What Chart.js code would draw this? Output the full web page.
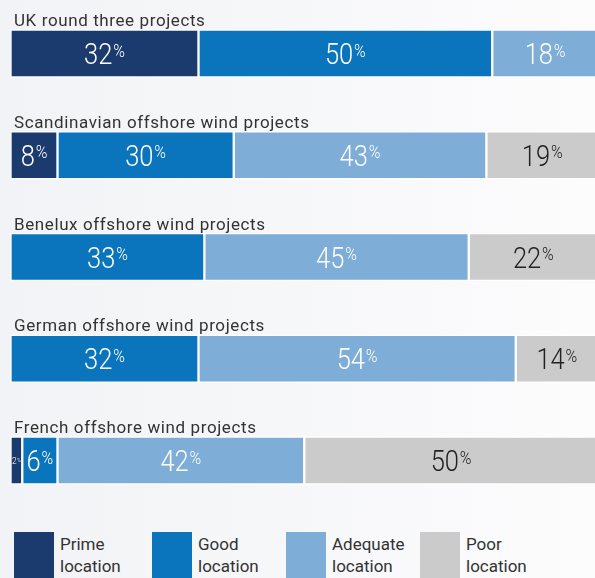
<!DOCTYPE html>
<html>
<head>
<meta charset="utf-8">
<script src="https://cdn.jsdelivr.net/npm/chart.js@4.4.1/dist/chart.umd.min.js"></script>
<style>
html,body{margin:0;padding:0;width:595px;height:578px;overflow:hidden;
  background:linear-gradient(to right,#f2f3f6,#fcfcfd);font-family:Roboto,"Noto Sans",sans-serif;}
#wrap{position:absolute;left:0;top:0;width:598px;height:520px;}
#legend{position:absolute;left:14px;top:532px;display:flex;}
.lg-item{display:flex;width:134px;}
.lg-item:first-child{width:138px;}
.lg-box{width:40px;height:46px;flex:none;}
.lg-text{margin-left:6px;margin-top:1px;font-size:17px;line-height:22px;color:#333;white-space:pre-line;}
</style>
</head>
<body>
<div id="wrap"><canvas id="sites" width="598" height="520"></canvas></div>
<div id="legend"></div>
<script>
const regions = ["UK round three projects","Scandinavian offshore wind projects","Benelux offshore wind projects",
                 "German offshore wind projects","French offshore wind projects"];
const prime    = [32, 8, 0, 0, 2];
const good     = [50, 30, 33, 32, 6];
const adequate = [18, 43, 45, 54, 42];
const poor     = [0, 19, 22, 14, 50];
const classes  = ["Prime location","Good location","Adequate location","Poor location"];
const palette  = ["#1b3a6d","#0a75bc","#7eadd8","#cbcbcb"];
const inkOn    = ["#ffffff","#ffffff","#ffffff","#222222"];

const SQUEEZE = 0.88; // narrow the glyphs a bit, the house font is condensed

// region titles above each bar + "NN%" labels centred in each segment
const segLabels = {
  id:"segLabels",
  afterDatasetsDraw(chart){
    const ctx=chart.ctx, yS=chart.scales.y;
    ctx.save();
    ctx.textAlign="left"; ctx.textBaseline="alphabetic";
    ctx.fillStyle="#333"; ctx.font="400 17px Roboto";
    ctx.letterSpacing="0.6px";
    chart.data.labels.forEach((t,i)=>ctx.fillText(t,14,yS.getPixelForValue(i)-27.5));
    ctx.letterSpacing="0px";

    chart.data.datasets.forEach((ds,di)=>{
      chart.getDatasetMeta(di).data.forEach((bar,i)=>{
        const v=ds.data[i];
        if(!v) return;
        const p=bar.getProps(["x","y","base"],true);
        const room=Math.abs(p.x-p.base)-3;
        const num=String(v);
        ctx.font="300 29px Roboto"; const nw=ctx.measureText(num).width;
        ctx.font="300 18px Roboto"; const pw=ctx.measureText("%").width;
        const full=(nw+1+pw)*SQUEEZE;
        const s=full>room?room/full:1;
        const cx=(p.x+p.base)/2;
        ctx.save();
        ctx.translate(cx-full*s/2,p.y);
        ctx.scale(SQUEEZE*s,s);
        ctx.fillStyle=inkOn[di];
        ctx.font="300 29px Roboto"; ctx.fillText(num,0,10.5);
        ctx.font="300 18px Roboto"; ctx.fillText("%",nw+1,3.2);
        ctx.restore();
      });
    });
    ctx.restore();
  }
};

const series=[prime,good,adequate,poor];
new Chart(document.getElementById("sites"),{
  type:"bar",
  data:{
    labels:regions,
    datasets:series.map((d,i)=>({
      label:classes[i],data:d,backgroundColor:palette[i],
      borderColor:"#ffffff",borderWidth:1.5,borderSkipped:false,barThickness:48
    }))
  },
  options:{
    indexAxis:"y",responsive:false,animation:false,devicePixelRatio:1,
    layout:{padding:{left:10.5,right:0,top:2.6,bottom:8.6}},
    plugins:{legend:{display:false},tooltip:{enabled:false}},
    scales:{
      x:{stacked:true,min:0,max:100,display:false},
      y:{stacked:true,display:false}
    }
  },
  plugins:[segLabels]
});

const legend=document.getElementById("legend");
legend.innerHTML=classes.map((c,i)=>
  `<div class="lg-item"><div class="lg-box" style="background:${palette[i]}"></div>`+
  `<div class="lg-text">${c.replace(" ","\n")}</div></div>`).join("");
</script>
</body>
</html>
